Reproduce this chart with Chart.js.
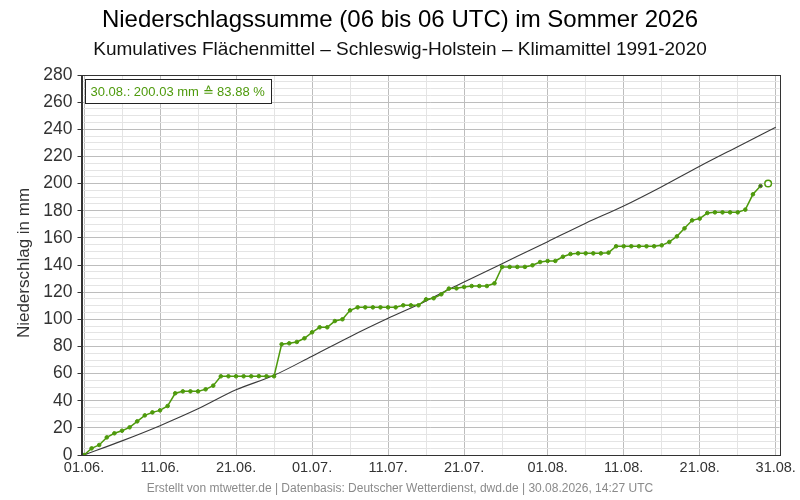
<!DOCTYPE html>
<html>
<head>
<meta charset="utf-8">
<script src="https://cdn.jsdelivr.net/npm/chart.js@4/dist/chart.umd.min.js"></script>
<style>
html,body{margin:0;padding:0;background:#fff;}
#wrap{width:800px;height:500px;position:relative;}
</style>
</head>
<body>
<div id="wrap"><canvas id="c" width="800" height="500"></canvas></div>
<script>
// ---- data ----
const titleText = 'Niederschlagssumme (06 bis 06 UTC) im Sommer 2026';
const subtitleText = 'Kumulatives Flächenmittel – Schleswig-Holstein – Klimamittel 1991-2020';
const yTitleText = 'Niederschlag in mm';
const footerText = 'Erstellt von mtwetter.de | Datenbasis: Deutscher Wetterdienst, dwd.de | 30.08.2026, 14:27 UTC';

// day index (0 = 01.06.) of labelled ticks and their labels
const tickDays = [0, 10, 20, 30, 40, 50, 61, 71, 81, 91];
const tickLabels = ['01.06.', '11.06.', '21.06.', '01.07.', '11.07.', '21.07.', '01.08.', '11.08.', '21.08.', '31.08.'];
const minorDays = [5, 15, 25, 35, 45, 55, 66, 76, 86];

// observed cumulative precipitation, 01.06. .. 29.08. (one value per day)
const obsValues = [
  0, 4.9, 7.4, 13.0, 16.0, 17.9, 20.4, 24.8, 29.2, 31.4,
  32.9, 36.1, 45.5, 46.9, 46.9, 46.9, 48.4, 51.1, 58.0, 58.0,
  58.0, 58.0, 58.0, 58.1, 58.0, 58.0, 81.6, 82.3, 83.3, 86.0,
  90.4, 94.1, 94.1, 98.7, 100.0, 106.6, 108.8, 108.8, 108.8, 108.8,
  108.8, 108.8, 110.3, 110.3, 110.3, 114.7, 115.5, 118.4, 122.6, 122.8,
  123.8, 124.5, 124.5, 124.5, 126.5, 138.6, 138.6, 138.6, 138.6, 139.8,
  142.2, 143.0, 143.0, 146.1, 148.1, 148.6, 148.6, 148.6, 148.6, 149.1,
  153.8, 153.8, 153.8, 153.8, 153.8, 153.8, 154.5, 157.0, 161.1, 167.0,
  172.9, 174.2, 178.3, 178.8, 178.8, 178.8, 178.8, 180.8, 192.1, 198.2
];
// current (partial) value 30.08.
const lastDay = 90;
const lastValue = 200.03;
const lastPercent = 83.88;
const lastLabel = '30.08.';

// climatological mean 1991-2020 (cumulative)
const climDays   = [0, 5, 10, 15, 20, 25, 30, 35, 40, 45, 48, 50, 55, 61, 66, 71, 76, 81, 86, 91];
const climValues = [0, 10.4, 21.6, 34.0, 48.0, 58.7, 72.8, 87.2, 100.7, 113.5, 122.1, 127.5, 141.0, 157.2, 170.8, 183.5, 197.7, 212.8, 227.2, 241.5];

// ---- chart ----
const GREEN = '#4e9a0c';
const FONT = "'Liberation Sans', Arial, sans-serif";
const majorDaySet = new Set(tickDays);

const obsPoints = obsValues.map((v, i) => ({x: i, y: v}));
const climPoints = climDays.map((d, i) => ({x: d, y: climValues[i]}));

const overlay = {
  id: 'overlay',
  afterDraw(chart) {
    const ctx = chart.ctx;
    const a = chart.chartArea;
    ctx.save();
    // frame
    ctx.strokeStyle = '#333';
    ctx.lineWidth = 1;
    ctx.strokeRect(Math.round(a.left) + 0.5, Math.round(a.top) + 0.5, Math.round(a.right - a.left), Math.round(a.bottom - a.top));
    // titles
    ctx.textAlign = 'center';
    ctx.textBaseline = 'middle';
    ctx.fillStyle = '#000';
    ctx.font = '24px ' + FONT;
    ctx.fillText(titleText, 400, 20);
    ctx.fillStyle = '#111';
    ctx.font = '19px ' + FONT;
    ctx.fillText(subtitleText, 400, 50);
    // footer
    ctx.fillStyle = '#8a8a8a';
    ctx.font = '12px ' + FONT;
    ctx.fillText(footerText, 400, 489);
    // y title
    ctx.save();
    ctx.translate(24.5, 263);
    ctx.rotate(-Math.PI / 2);
    ctx.fillStyle = '#333';
    ctx.font = '17px ' + FONT;
    ctx.fillText(yTitleText, 0, 0);
    ctx.restore();
    // info box
    const txt = lastLabel + ': ' + lastValue.toFixed(2) + ' mm \u2259 ' + lastPercent.toFixed(2) + ' %';
    ctx.font = '13px ' + FONT;
    const w = ctx.measureText(txt).width;
    const bx = 85.5, by = 79.5, bh = 24;
    ctx.fillStyle = '#fff';
    ctx.fillRect(bx, by, w + 12, bh);
    ctx.strokeStyle = '#222';
    ctx.strokeRect(bx, by, Math.round(w + 12), bh);
    ctx.fillStyle = GREEN;
    ctx.textAlign = 'left';
    ctx.fillText(txt, bx + 5, by + bh / 2 + 0.5);
    ctx.restore();
  }
};

new Chart(document.getElementById('c'), {
  type: 'line',
  data: {
    datasets: [
      {
        label: 'Beobachtung',
        data: obsPoints,
        borderColor: GREEN,
        backgroundColor: GREEN,
        borderWidth: 1.5,
        pointRadius: 1.8,
        pointBorderWidth: 1,
        pointBackgroundColor: obsValues.map((v, i) => i === obsValues.length - 1 ? '#444' : GREEN),
        pointBorderColor: GREEN,
        tension: 0,
        order: 0
      },
      {
        label: 'Aktuell',
        data: [{x: lastDay, y: lastValue}],
        showLine: false,
        pointRadius: 3.3,
        pointBorderWidth: 1.5,
        pointBorderColor: GREEN,
        pointBackgroundColor: '#fff',
        order: 1
      },
      {
        label: 'Klimamittel',
        data: climPoints,
        borderColor: '#3a3a3a',
        borderWidth: 1.1,
        pointRadius: 0,
        cubicInterpolationMode: 'monotone',
        order: 2
      }
    ]
  },
  options: {
    responsive: false,
    animation: false,
    layout: {padding: {top: 75, right: 20, bottom: 20, left: 0}},
    plugins: {legend: {display: false}, tooltip: {enabled: false}, title: {display: false}},
    scales: {
      x: {
        type: 'linear',
        min: -0.33,
        max: 91.5,
        afterBuildTicks(scale) {
          const all = tickDays.concat(minorDays).sort((a, b) => a - b);
          scale.ticks = all.map(v => ({value: v}));
        },
        afterFit(scale) { scale.height = 25; },
        ticks: {
          autoSkip: false,
          maxRotation: 0,
          padding: 4,
          color: '#333',
          font: {family: FONT, size: 14.5},
          callback(v) {
            const i = tickDays.indexOf(v);
            return i >= 0 ? tickLabels[i] : '';
          }
        },
        grid: {
          drawTicks: false,
          color: ctx => (ctx.tick && majorDaySet.has(ctx.tick.value)) ? '#bdbdbd' : '#e4e4e4',
          lineWidth: 1
        },
        border: {display: true, color: '#333', width: 1}
      },
      y: {
        min: 0,
        max: 280,
        afterFit(scale) { scale.width = 81.5; },
        ticks: {
          stepSize: 5,
          autoSkip: false,
          padding: 5,
          color: '#333',
          font: {family: FONT, size: 17.5},
          callback(v) { return v % 20 === 0 ? String(v) : ''; }
        },
        grid: {
          tickLength: 4,
          color: ctx => (ctx.tick && ctx.tick.value % 20 === 0) ? '#bdbdbd' : '#e4e4e4',
          tickColor: ctx => (ctx.tick && ctx.tick.value % 20 === 0) ? '#333' : 'rgba(0,0,0,0)',
          lineWidth: 1
        },
        border: {display: true, color: '#333', width: 1}
      }
    }
  },
  plugins: [overlay]
});
</script>
</body>
</html>
